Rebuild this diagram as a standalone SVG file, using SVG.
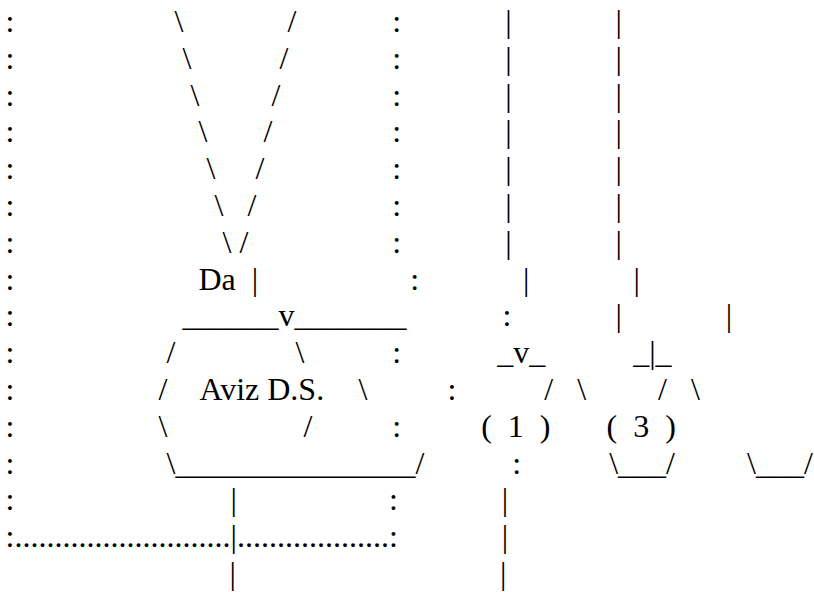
<svg xmlns="http://www.w3.org/2000/svg" width="814" height="592" viewBox="0 0 814 592" xml:space="preserve">
<style>
text { font-family: "Liberation Serif", "Times New Roman", serif; font-size: 32px; fill: #000; white-space: pre; }
</style>
<rect x="0" y="0" width="814" height="592" fill="#fff"/>
<g id="connectors">
<!-- left dotted column -->
<text x="5.6" y="32">:</text>
<text x="5.6" y="68.8">:</text>
<text x="5.6" y="105.6">:</text>
<text x="5.6" y="142.4">:</text>
<text x="5.6" y="179.2">:</text>
<text x="5.6" y="216">:</text>
<text x="5.6" y="252.8">:</text>
<text x="5.6" y="289.6">:</text>
<text x="5.6" y="326.4">:</text>
<text x="5.6" y="363.2">:</text>
<text x="5.6" y="400">:</text>
<text x="5.6" y="436.8">:</text>
<text x="5.6" y="473.6">:</text>
<text x="5.6" y="510.4">:</text>
<text x="5.6" y="547.2">:...........................|...................:</text>
<!-- V lines -->
<text x="174.5" y="32">\</text><text x="287.4" y="32">/</text>
<text x="182.5" y="68.8">\</text><text x="279.4" y="68.8">/</text>
<text x="190.5" y="105.6">\</text><text x="271.4" y="105.6">/</text>
<text x="198.5" y="142.4">\</text><text x="263.4" y="142.4">/</text>
<text x="206.5" y="179.2">\</text><text x="255.4" y="179.2">/</text>
<text x="214.5" y="216">\</text><text x="247.4" y="216">/</text>
<text x="222.5" y="252.8">\</text><text x="239.4" y="252.8">/</text>
<text x="198.5" y="289.6">Da</text><text x="251.8" y="289.6">|</text>
<!-- middle dotted column -->
<text x="392.3" y="32">:</text>
<text x="392.3" y="68.8">:</text>
<text x="392.3" y="105.6">:</text>
<text x="392.3" y="142.4">:</text>
<text x="392.3" y="179.2">:</text>
<text x="392.3" y="216">:</text>
<text x="392.3" y="252.8">:</text>
<text x="410.2" y="289.6">:</text>
<text x="502.5" y="326.4">:</text>
<text x="392.3" y="363.2">:</text>
<text x="447.4" y="400">:</text>
<text x="392.3" y="436.8">:</text>
<text x="512.3" y="473.6">:</text>
<text x="388.9" y="510.4">:</text>
<!-- vertical bars right -->
<text x="505.2" y="32">|</text><text x="615.6" y="32">|</text>
<text x="505.2" y="68.8">|</text><text x="615.6" y="68.8">|</text>
<text x="505.2" y="105.6">|</text><text x="615.6" y="105.6">|</text>
<text x="505.2" y="142.4">|</text><text x="615.6" y="142.4">|</text>
<text x="505.2" y="179.2">|</text><text x="615.6" y="179.2">|</text>
<text x="505.2" y="216">|</text><text x="615.6" y="216">|</text>
<text x="505.2" y="252.8">|</text><text x="615.6" y="252.8">|</text>
<text x="523.1" y="289.6">|</text><text x="633.5" y="289.6">|</text>
<text x="615.4" y="326.4">|</text><text x="725.8" y="326.4">|</text>
<!-- bottom bars -->
<text x="230.5" y="510.4">|</text>
<text x="501.8" y="510.4">|</text>
<text x="501.8" y="547.2">|</text>
<text x="229.6" y="584">|</text>
<text x="500" y="584">|</text>
</g>
<g id="node-aviz">
<text x="182.5" y="326.4">______v_______</text>
<text x="166.5" y="363.2">/</text><text x="295.4" y="363.2">\</text>
<text x="158.5" y="400">/</text><text x="199.4" y="400">Aviz D.S.</text><text x="358.5" y="400">\</text>
<text x="158.5" y="436.8">\</text><text x="303.4" y="436.8">/</text>
<text x="166.5" y="473.6">\_______________/</text>
</g>
<g id="node-1">
<text x="497.2" y="363.2">_v_</text>
<text x="544.3" y="400">/</text><text x="577.2" y="400">\</text>
<text x="481.2" y="436.8">(  1  )</text>
</g>
<g id="node-3">
<text x="633.2" y="363.2">_|_</text>
<text x="658.1" y="400">/</text><text x="691" y="400">\</text>
<text x="606.5" y="436.8">(  3  )</text>
<text x="609.2" y="473.6">\___/</text>
</g>
<g id="node-4">
<text x="747" y="473.6">\___/</text>
</g>
</svg>
